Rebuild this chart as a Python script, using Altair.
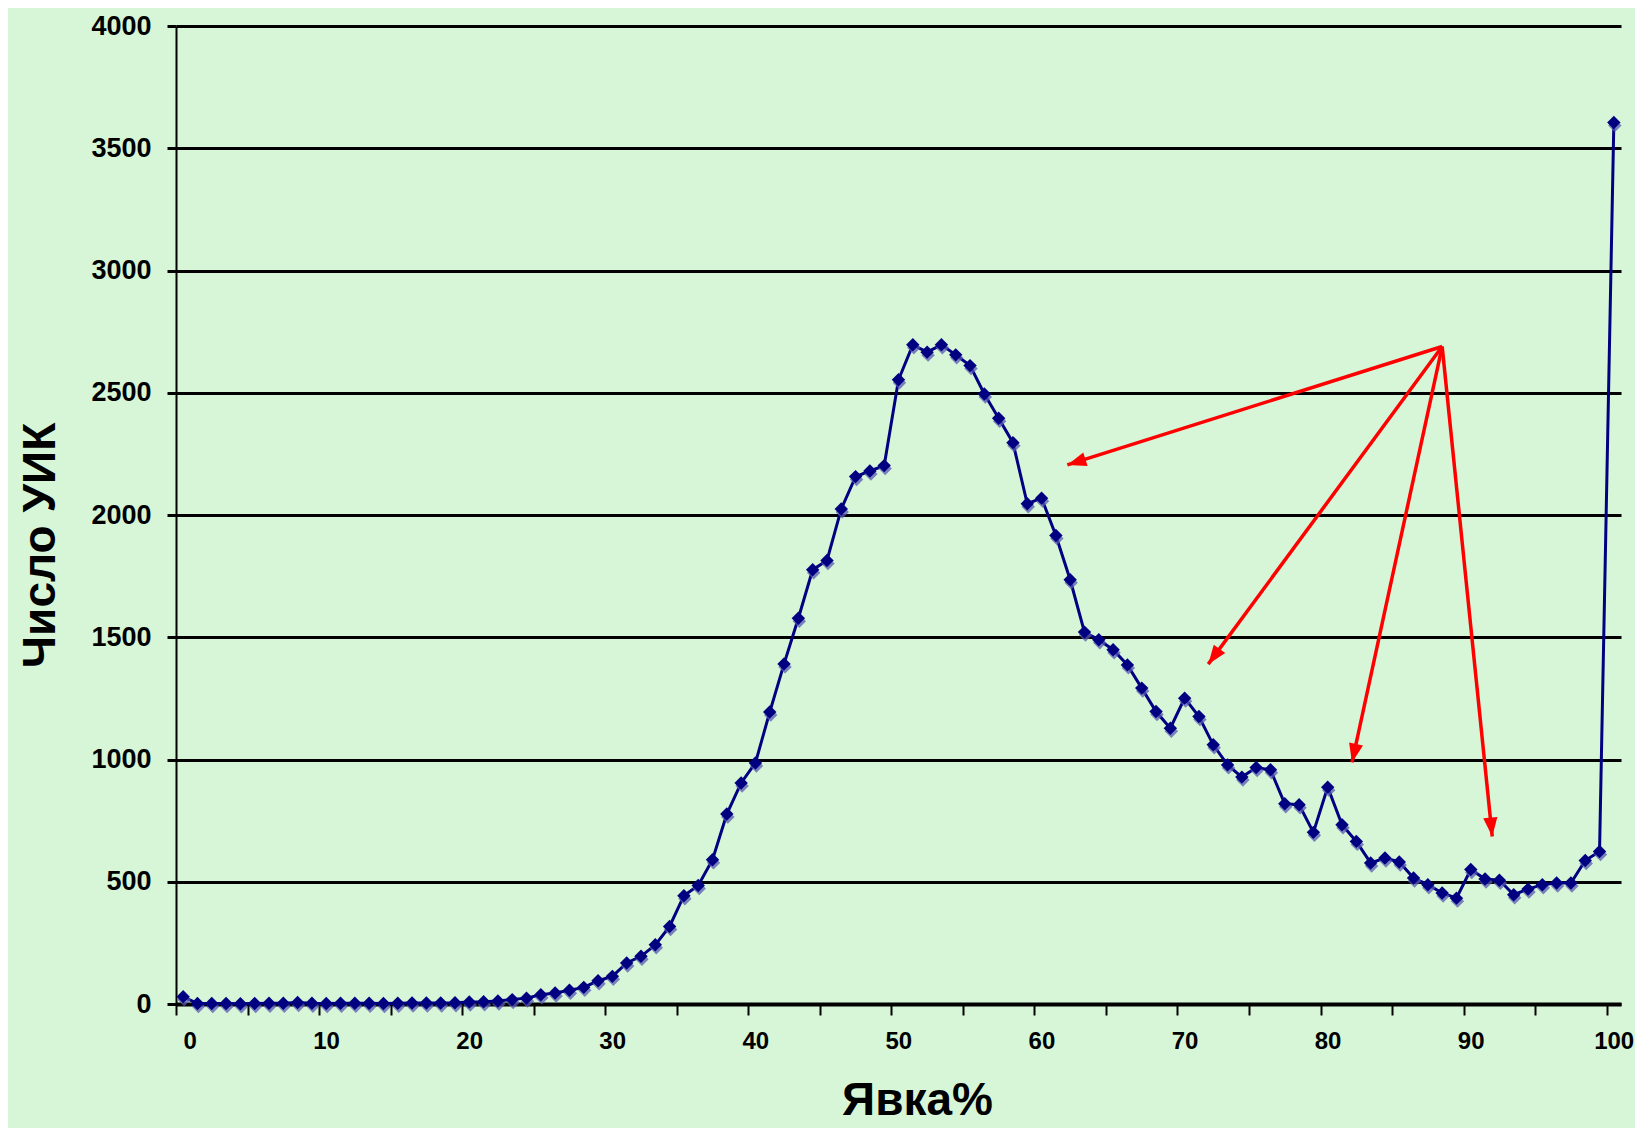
import math
import altair as alt
import pandas as pd

# ---- data ----
turnout_bins = list(range(101))  # turnout %, one bin per percent
station_counts = [
    30, 2, 2, 2, 1, 2, 3, 3, 6, 3,
    2, 3, 3, 3, 2, 3, 4, 4, 4, 5,
    8, 9, 12, 18, 24, 38, 45, 56, 68, 95,
    113, 168, 195, 242, 317, 443, 485, 590, 777, 904,
    986, 1194, 1391, 1578, 1776, 1814, 2025, 2157, 2180, 2202,
    2553, 2696, 2666, 2696, 2655, 2611, 2495, 2396, 2296, 2046,
    2069, 1916, 1735, 1521, 1490, 1449, 1387, 1292, 1196, 1128,
    1251, 1176, 1060, 978, 928, 967, 958, 819, 815, 702,
    887, 733, 665, 577, 597, 581, 515, 488, 454, 433,
    550, 511, 506, 447, 470, 488, 495, 495, 587, 624,
    3605,
]
x_tick_values = list(range(0, 101, 5))
y_tick_values = list(range(0, 4001, 500))

arrow_origin_x = 88.5
arrow_origin_y = 2689
arrow_tip_x = [62.3, 72.15, 82.2, 92.0]
arrow_tip_y = [2205, 1390, 988, 685]

# ---- layout / style ----
W, H = 1445, 978
X_MAX, Y_MAX = 101, 4000
BG = "#d7f6d7"
NAVY = "#000080"
FONT = "Liberation Sans"

df = pd.DataFrame({"bin": turnout_bins, "count": station_counts})
df["xc"] = df["bin"] + 0.5  # bin centre

sx, sy = W / X_MAX, H / Y_MAX
angles = []
for tx, ty in zip(arrow_tip_x, arrow_tip_y):
    dx = (tx - arrow_origin_x) * sx
    dy = -(ty - arrow_origin_y) * sy
    angles.append((math.degrees(math.atan2(dx, -dy)) + 360) % 360)

arrows = pd.DataFrame({
    "x0": [arrow_origin_x] * len(arrow_tip_x),
    "y0": [arrow_origin_y] * len(arrow_tip_x),
    "x1": arrow_tip_x,
    "y1": arrow_tip_y,
    "angle": angles,
})

xscale = alt.Scale(domain=[0, X_MAX], nice=False, zero=False)
yscale = alt.Scale(domain=[0, Y_MAX], nice=False)

x_axis = alt.Axis(
    values=x_tick_values,
    labelExpr="datum.value % 10 === 0 ? datum.label : ''",
    format="d",
    grid=False,
    domainColor="black", domainWidth=4,
    tickColor="black", tickWidth=2, tickSize=11,
    labelFont=FONT, labelFontSize=24, labelFontWeight="bold", labelColor="black",
    labelPadding=14, labelOffset=7,
    title="Явка%",
    titleFont=FONT, titleFontSize=46, titleFontWeight="bold", titleColor="black",
    titleX=741, titleY=110, titleBaseline="alphabetic", titleAlign="center",
)
y_axis = alt.Axis(
    values=y_tick_values,
    format="d",
    grid=True, gridColor="black", gridWidth=3,
    domainColor="black", domainWidth=2,
    tickColor="black", tickWidth=3, tickSize=9,
    labelFont=FONT, labelFontSize=27, labelFontWeight="bold", labelColor="black",
    labelPadding=16,
    title="Число УИК",
    titleFont=FONT, titleFontSize=46, titleFontWeight="bold", titleColor="black",
    titleX=-136, titleY=519, titleAngle=270, titleBaseline="middle", titleAlign="center",
)

base = alt.Chart(df)

line = base.mark_line(color=NAVY, strokeWidth=3).encode(
    x=alt.X("xc:Q", scale=xscale, axis=x_axis),
    y=alt.Y("count:Q", scale=yscale, axis=y_axis),
)
shadow = base.mark_point(
    shape="diamond", filled=True, size=180, color="#5a5ab4", opacity=0.75,
    strokeWidth=0, xOffset=1, yOffset=3,
).encode(
    x=alt.X("xc:Q", scale=xscale, axis=x_axis),
    y=alt.Y("count:Q", scale=yscale, axis=y_axis),
)
points = base.mark_point(
    shape="diamond", filled=True, size=180, color=NAVY, opacity=1, strokeWidth=0,
).encode(
    x=alt.X("xc:Q", scale=xscale, axis=x_axis),
    y=alt.Y("count:Q", scale=yscale, axis=y_axis),
)

arrow_lines = alt.Chart(arrows).mark_rule(color="#ff0000", strokeWidth=3.5).encode(
    x=alt.X("x0:Q", scale=xscale, axis=x_axis),
    y=alt.Y("y0:Q", scale=yscale, axis=y_axis),
    x2="x1:Q",
    y2="y1:Q",
)
arrow_heads = alt.Chart(arrows).mark_point(
    shape="M0,0L-0.75,2L0.75,2Z", filled=True, size=360, color="#ff0000",
    opacity=1, strokeWidth=0,
).encode(
    x=alt.X("x1:Q", scale=xscale, axis=x_axis),
    y=alt.Y("y1:Q", scale=yscale, axis=y_axis),
    angle=alt.Angle("angle:Q", scale=None),
)

chart = alt.layer(line, shadow, points, arrow_lines, arrow_heads).properties(
    width=W,
    height=H,
    autosize=alt.AutoSizeParams(type="none"),
    padding={"left": 168, "top": 18, "right": 14, "bottom": 124},
    background=BG,
).configure_view(strokeOpacity=0, fill=BG)

chart.save("out.html", embed_options={"renderer": "svg", "actions": False})
